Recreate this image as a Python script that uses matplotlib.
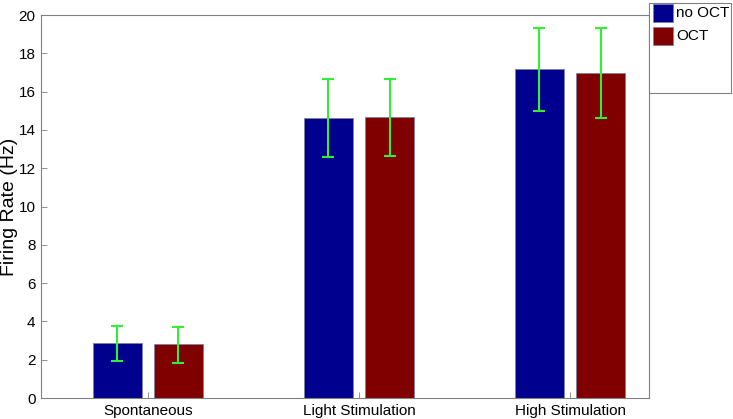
import matplotlib
matplotlib.use('Agg')
import matplotlib.pyplot as plt
from matplotlib.patches import Rectangle
import numpy as np

plt.rcParams['font.family'] = ['Liberation Sans', 'DejaVu Sans']

conditions = ['Spontaneous', 'Light Stimulation', 'High Stimulation']
no_oct = [2.86, 14.60, 17.16]
no_oct_lo = [1.95, 12.57, 15.00]
no_oct_hi = [3.77, 16.64, 19.30]
oct_ = [2.80, 14.66, 16.99]
oct_lo = [1.83, 12.64, 14.62]
oct_hi = [3.72, 16.67, 19.30]
series_names = ['no OCT', 'OCT']

blue = '#00008f'
red = '#800000'
green = '#33ee33'

fig = plt.figure(figsize=(7.33, 4.19), dpi=100)
ax = fig.add_axes([0.0559, 0.0501, 0.8295, 0.9141])

x = np.arange(1, len(conditions) + 1)
w = 0.232
off = 0.145
for vals, lo, hi, sign, col in [(no_oct, no_oct_lo, no_oct_hi, -1, blue),
                                (oct_, oct_lo, oct_hi, 1, red)]:
    vals = np.array(vals)
    err = [vals - np.array(lo), np.array(hi) - vals]
    ax.bar(x + sign * off, vals, w, color=col, edgecolor='#8080a0',
           linewidth=0.6, zorder=2)
    ax.errorbar(x + sign * off, vals, yerr=err, fmt='none', ecolor=green,
                elinewidth=1.5, capsize=4, capthick=1.5, zorder=3)

ax.set_xlim(0.494, 3.374)
ax.set_ylim(0, 20)
ax.set_yticks(np.arange(0, 21, 2))
ax.set_xticks(x)
ax.set_xticklabels(conditions)
ax.tick_params(direction='in', length=4, width=0.6, color='#808080',
               labelsize=11, pad=4)
for s in ax.spines.values():
    s.set_color('#808080')
    s.set_linewidth(0.8)
ax.set_ylabel('Firing Rate (Hz)', fontsize=14, va='center')
ax.yaxis.set_label_coords(-0.052, 0.5)

# legend box, MATLAB style
fig.patches.append(Rectangle((0.885, 0.778), 0.112, 0.215,
                             transform=fig.transFigure, facecolor='white',
                             edgecolor='#808080', linewidth=0.8, zorder=5))
for i, (name, col) in enumerate(zip(series_names, [blue, red])):
    ytop = 1 - (4 + i * 23) / 419
    fig.patches.append(Rectangle((653 / 733, ytop - 18 / 419), 20 / 733,
                                 18 / 419, transform=fig.transFigure,
                                 facecolor=col, edgecolor='#8080a0',
                                 linewidth=0.5, zorder=6))
    fig.text(676 / 733, ytop - 9 / 419, name, fontsize=11, va='center',
             ha='left', zorder=7)

fig.savefig('out.png', dpi=100)
